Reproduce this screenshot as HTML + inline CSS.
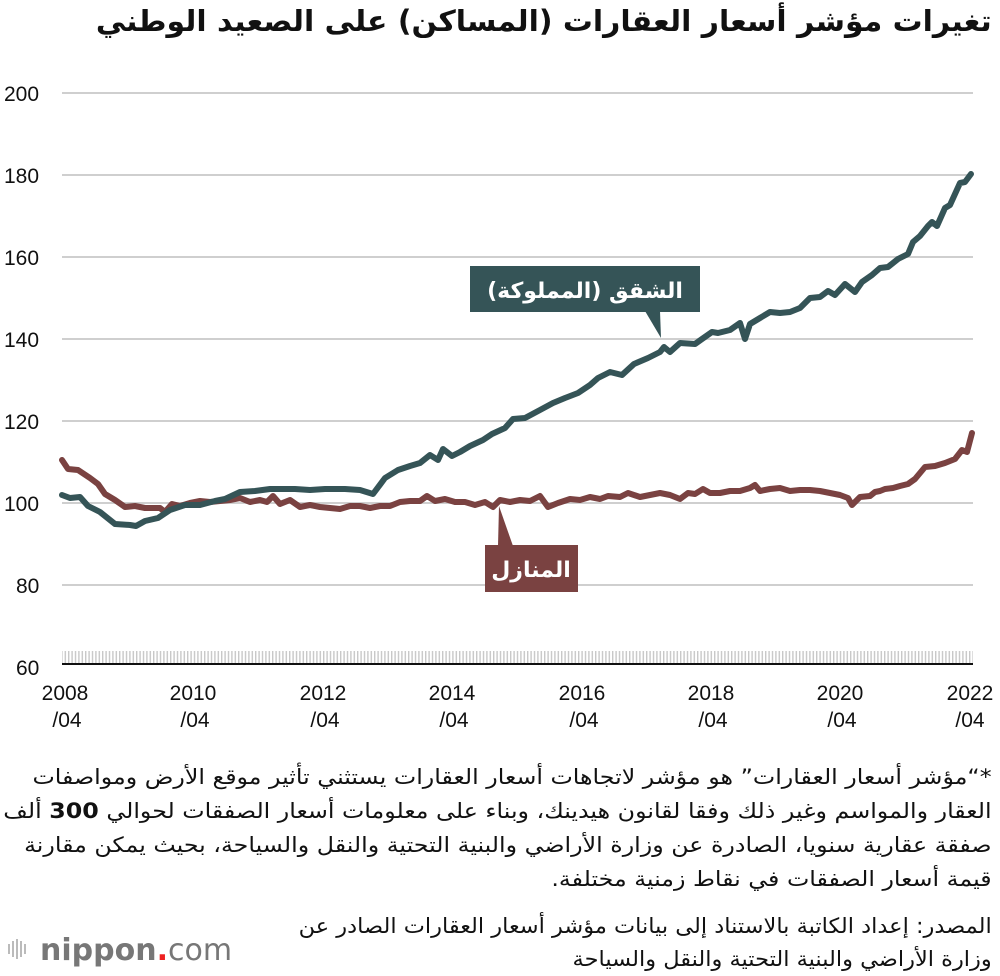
<!DOCTYPE html>
<html><head><meta charset="utf-8"><style>
body{margin:0;width:1000px;height:976px;background:#fff;overflow:hidden;font-family:"Liberation Sans","DejaVu Sans",sans-serif;}
.t{position:absolute;right:8px;direction:rtl;font-family:"DejaVu Sans",sans-serif;color:#111;white-space:nowrap;transform-origin:right top}
</style></head><body>
<div class="t" style="top:4px;font-size:29px;font-weight:bold;transform:scaleX(1.03)">تغيرات مؤشر أسعار العقارات (المساكن) على الصعيد الوطني</div>
<svg width="1000" height="976" style="position:absolute;left:0;top:0">
<defs><pattern id="tk" width="3.4" height="12" patternUnits="userSpaceOnUse"><rect x="0" y="0" width="1.4" height="12" fill="#c8c8c8"/></pattern></defs>
<g stroke="#cfcfcf" stroke-width="2">
<line x1="62" x2="973" y1="93" y2="93"/><line x1="62" x2="973" y1="175" y2="175"/><line x1="62" x2="973" y1="257" y2="257"/><line x1="62" x2="973" y1="339" y2="339"/><line x1="62" x2="973" y1="421" y2="421"/><line x1="62" x2="973" y1="503" y2="503"/><line x1="62" x2="973" y1="585" y2="585"/>
</g>
<rect x="62" y="651" width="911" height="12" fill="url(#tk)"/>
<line x1="62" x2="973" y1="664" y2="664" stroke="#111" stroke-width="2"/>
<g font-size="21" fill="#111" font-family="Liberation Sans,sans-serif">
<text x="4" y="101">200</text><text x="4" y="183">180</text><text x="4" y="265">160</text><text x="4" y="347">140</text><text x="4" y="429">120</text><text x="4" y="511">100</text><text x="16" y="593">80</text><text x="16" y="675">60</text>
</g>
<g font-size="21" fill="#111" text-anchor="middle" font-family="Liberation Sans,sans-serif" direction="ltr" unicode-bidi="embed">
<text x="65" y="700">2008</text><text x="67" y="727">/04</text>
<text x="193" y="700">2010</text><text x="195" y="727">/04</text>
<text x="323" y="700">2012</text><text x="325" y="727">/04</text>
<text x="452" y="700">2014</text><text x="454" y="727">/04</text>
<text x="582" y="700">2016</text><text x="584" y="727">/04</text>
<text x="711" y="700">2018</text><text x="713" y="727">/04</text>
<text x="840" y="700">2020</text><text x="842" y="727">/04</text>
<text x="970" y="700">2022</text><text x="970" y="727">/04</text>
</g>
<polyline fill="none" stroke="#7a4241" stroke-width="6" stroke-linejoin="round" stroke-linecap="round" points="62,460 68,469 78,470 90,478 98,484 105,494 115,500 125,507 135,506 145,508 152,508 160,508 165,512 172,504 180,506 190,503 200,501 210,502 220,501 230,500 240,498 250,502 260,500 267,502 273,496 280,504 290,500 300,507 310,505 320,507 330,508 340,509 350,506 360,506 370,508 380,506 390,506 400,502 410,501 420,501 427,496 435,501 445,499 455,502 465,502 475,505 485,502 493,507 500,500 510,502 520,500 530,501 540,496 548,507 558,503 570,499 580,500 590,497 600,499 608,496 620,497 628,493 640,497 650,495 660,493 670,495 680,499 688,493 695,494 703,489 710,493 720,493 730,491 740,491 750,488 755,485 760,491 770,489 780,488 790,491 800,490 810,490 820,491 830,493 840,495 848,498 852,505 860,497 870,496 875,492 880,491 885,489 893,488 900,486 908,484 915,479 925,467 935,466 945,463 955,459 962,450 967,452 972,433"/>
<polyline fill="none" stroke="#355457" stroke-width="6" stroke-linejoin="round" stroke-linecap="round" points="62,495 70,498 80,497 88,506 100,512 110,520 115,524 130,525 136,526 145,521 158,518 170,510 185,505 200,505 215,501 225,499 240,492 255,491 270,489 280,489 295,489 310,490 325,489 345,489 360,490 373,494 385,478 398,470 410,466 420,463 430,455 438,460 443,449 452,456 460,452 470,446 483,440 492,434 505,428 513,419 525,418 540,410 553,403 565,398 578,393 590,385 598,378 610,372 622,375 634,364 648,358 660,352 664,347 670,352 680,343 695,344 702,339 712,332 718,333 730,330 740,323 745,339 750,324 760,318 770,312 780,313 790,312 800,308 810,298 820,297 828,291 835,295 845,284 855,292 862,282 872,275 880,268 888,267 898,259 908,254 913,242 920,236 928,226 932,222 937,226 945,208 950,205 960,183 965,182 971,174"/>
<rect x="470" y="266" width="230" height="46" fill="#355457"/>
<polygon points="645,311 660,311 661,338" fill="#355457"/>
<text x="585" y="298" fill="#fff" font-size="22" font-weight="bold" text-anchor="middle" font-family="DejaVu Sans,sans-serif" direction="rtl">الشقق (المملوكة)</text>
<rect x="485" y="545" width="93" height="47" fill="#7a4241"/>
<polygon points="498,546 513,546 499,506" fill="#7a4241"/>
<text x="531" y="577" fill="#fff" font-size="22" font-weight="bold" text-anchor="middle" font-family="DejaVu Sans,sans-serif" direction="rtl">المنازل</text>
<g fill="#bbb"><rect x="8" y="944" width="2" height="10"/><rect x="12" y="941" width="2" height="16"/><rect x="16" y="939" width="2" height="20"/><rect x="20" y="941" width="2" height="16"/><rect x="24" y="944" width="2" height="10"/></g>
<text x="40" y="960" font-size="30" fill="#777" font-family="DejaVu Sans,sans-serif" font-weight="bold">nippon<tspan fill="#e22">.</tspan><tspan font-weight="normal">com</tspan></text>
</svg>
<div class="t" style="top:760px;font-size:21px;line-height:34px;text-align:right;transform:scaleX(1.13)">*“مؤشر أسعار العقارات” هو مؤشر لاتجاهات أسعار العقارات يستثني تأثير موقع الأرض ومواصفات<br>العقار والمواسم وغير ذلك وفقا لقانون هيدينك، وبناء على معلومات أسعار الصفقات لحوالي <b>300</b> ألف<br>صفقة عقارية سنويا، الصادرة عن وزارة الأراضي والبنية التحتية والنقل والسياحة، بحيث يمكن مقارنة<br>قيمة أسعار الصفقات في نقاط زمنية مختلفة.</div>
<div class="t" style="top:910px;font-size:21px;line-height:33px;text-align:right;transform:scaleX(1.07)">المصدر: إعداد الكاتبة بالاستناد إلى بيانات مؤشر أسعار العقارات الصادر عن<br>وزارة الأراضي والبنية التحتية والنقل والسياحة</div>
</body></html>
